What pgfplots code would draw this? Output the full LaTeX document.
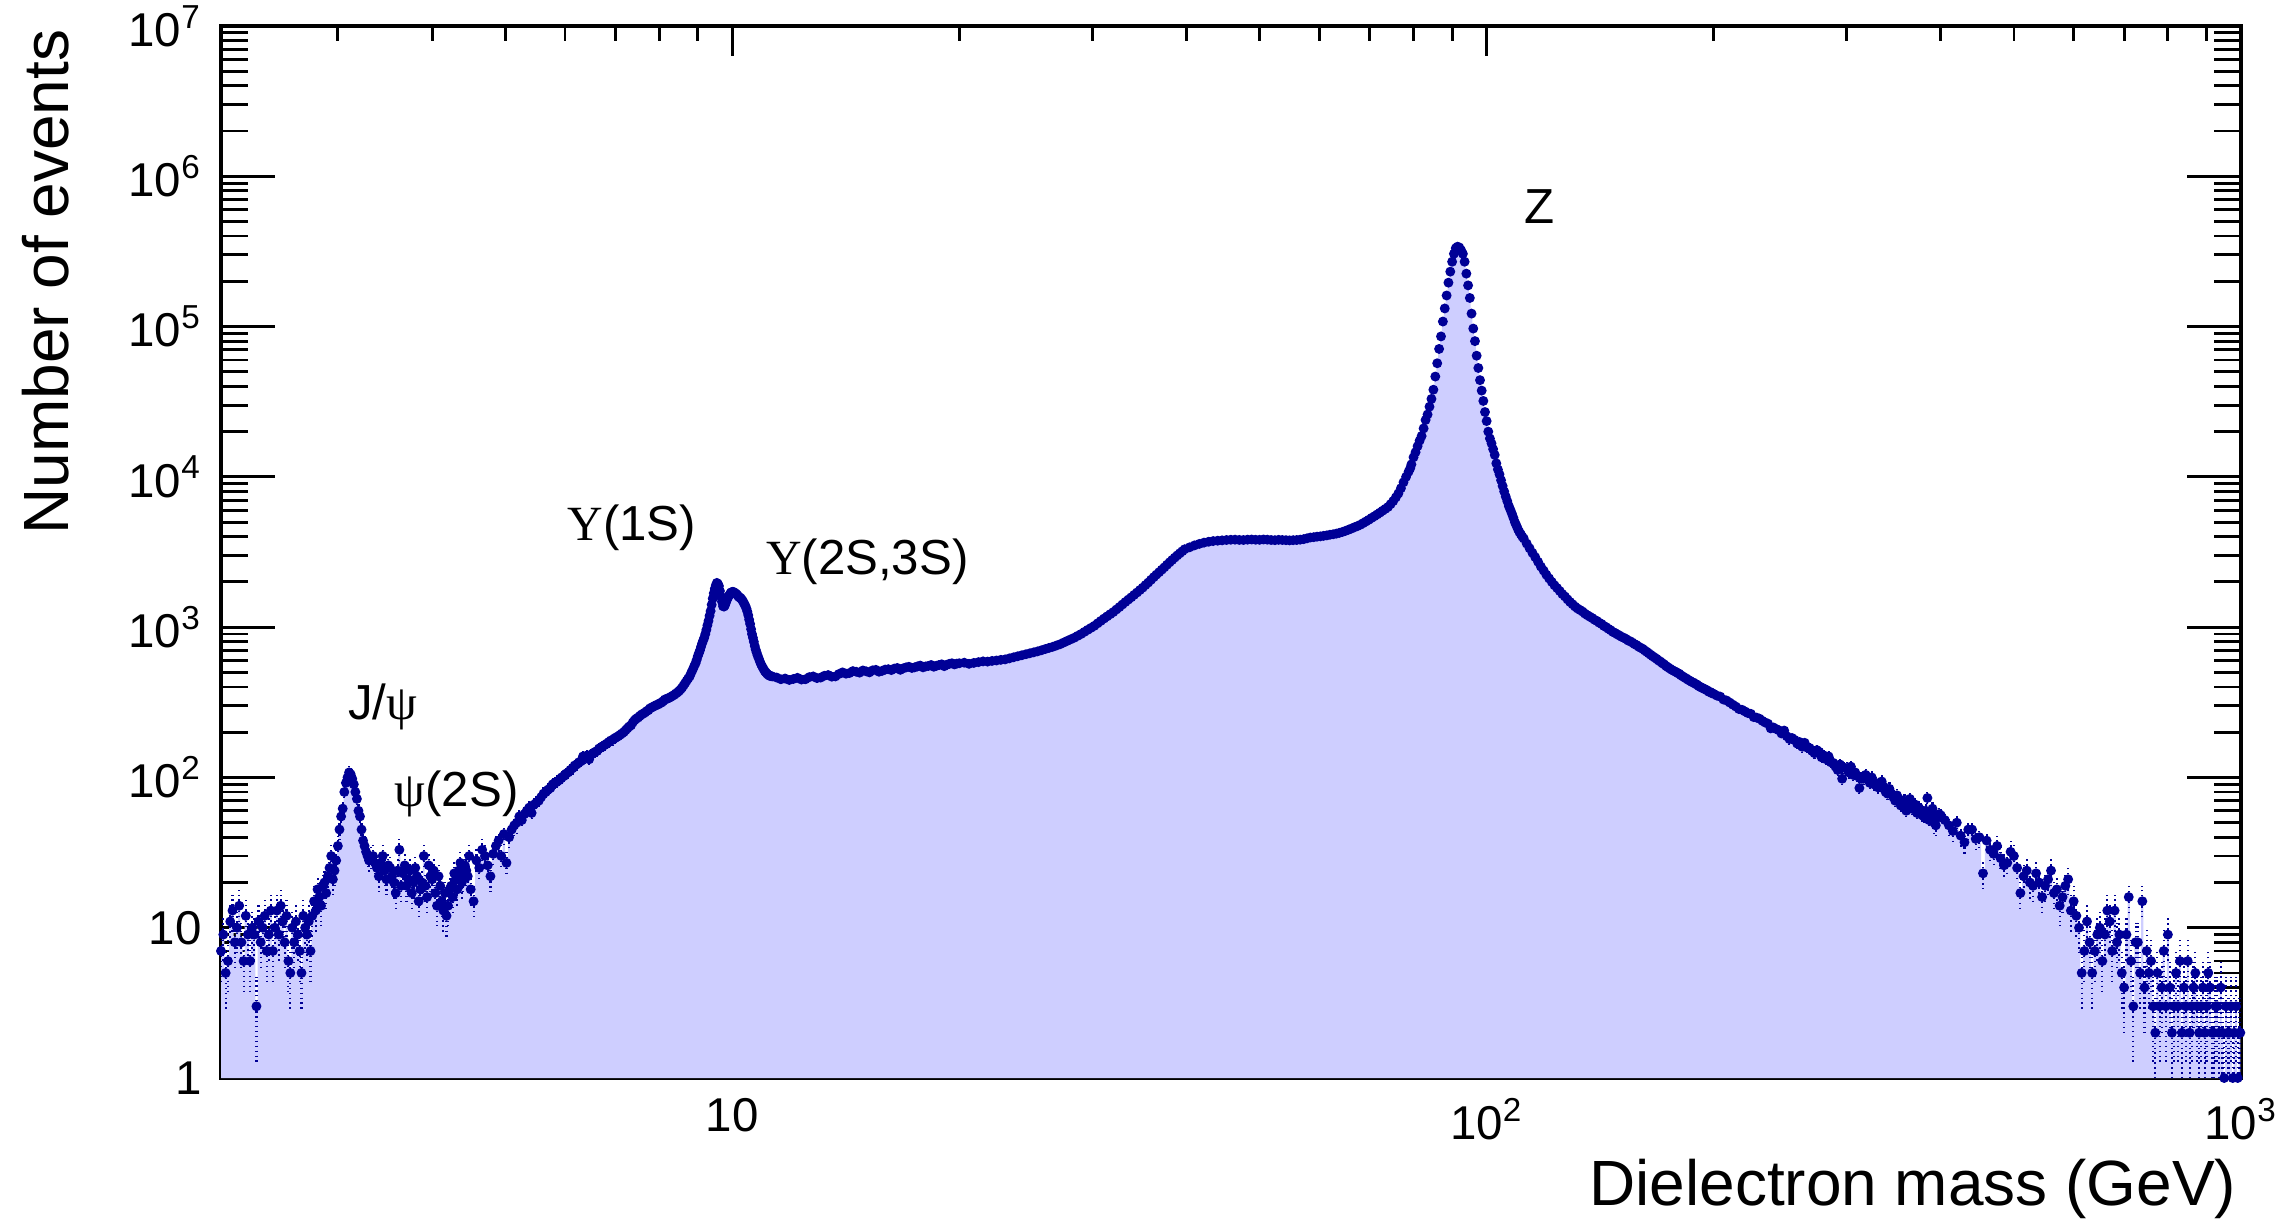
\documentclass[border=0pt]{standalone}
\usepackage{pgfplots}
\usepackage{pgfplotstable}
\pgfplotsset{compat=1.18}
\usepackage{fontspec}
\setmainfont{Liberation Sans}
\newfontfamily\serifgr{Liberation Serif}
\definecolor{markc}{RGB}{0,0,150}
\definecolor{fillc}{RGB}{206,206,255}

\pgfplotstableread{
x y
2.100 7
2.115 9
2.130 5
2.145 6
2.160 11
2.175 13
2.190 8
2.205 10
2.220 14
2.235 8
2.250 6
2.265 12
2.280 9
2.295 6
2.310 10
2.325 9
2.340 3
2.355 11
2.370 8
2.385 10
2.400 12
2.415 7
2.430 9
2.445 13
2.460 7
2.475 10
2.490 13
2.505 9
2.520 14
2.535 11
2.550 8
2.565 12
2.580 6
2.595 5
2.610 10
2.625 8
2.640 11
2.655 9
2.670 7
2.685 5
2.700 12
2.715 10
2.730 9
2.745 11
2.760 7
2.775 12
2.790 15
2.805 13
2.820 18
2.835 16
2.850 14
2.865 19
2.880 20
2.895 17
2.910 22
2.925 25
2.940 30
2.955 21
2.970 24
2.985 28
3.000 35
3.015 45
3.030 55
3.045 62
3.060 80
3.075 92
3.090 100
3.105 108
3.120 105
3.135 98
3.150 90
3.165 80
3.180 72
3.195 60
3.210 55
3.225 45
3.240 38
3.255 35
3.270 32
3.285 30
3.300 28
3.320 29
3.340 30
3.360 27
3.380 25
3.400 22
3.420 27
3.440 30
3.460 24
3.480 21
3.500 26
3.520 25
3.540 22
3.560 20
3.580 17
3.600 24
3.620 33
3.640 19
3.660 23
3.680 26
3.700 19
3.720 21
3.740 24
3.760 17
3.780 20
3.800 25
3.820 22
3.840 15
3.860 18
3.880 20
3.900 30
3.920 19
3.940 16
3.960 26
3.980 22
4.000 21
4.020 24
4.040 17
4.060 14
4.080 22
4.100 19
4.120 15
4.140 13
4.160 17
4.180 12
4.200 14
4.220 18
4.240 19
4.260 16
4.280 23
4.300 21
4.320 18
4.340 24
4.360 27
4.380 20
4.400 22
4.420 26
4.440 24
4.460 22
4.480 30
4.500 18
4.540 15
4.580 28
4.620 25
4.660 33
4.700 30
4.740 26
4.780 22
4.820 31
4.860 35
4.900 38
4.940 30
4.980 42
5.020 27
5.060 40
5.100 45
5.140 48
5.180 50
5.220 55
5.260 52
5.300 57
5.340 60
5.380 63
5.420 58
5.460 66
5.500 68
5.540 70
5.580 74
5.620 78
5.660 80
5.700 83
5.740 85
5.780 90
5.820 92
5.860 94
5.900 96
5.940 100
5.980 102
6.020 106
6.060 108
6.100 112
6.140 115
6.180 120
6.220 122
6.260 126
6.300 128
6.340 138
6.380 135
6.420 140
6.460 132
6.500 142
6.540 145
6.580 148
6.620 150
6.660 156
6.700 158
6.740 162
6.780 165
6.820 168
6.860 172
6.900 176
6.940 178
6.980 182
7.020 185
7.060 188
7.100 192
7.140 196
7.180 200
7.220 206
7.260 212
7.300 218
7.340 222
7.380 232
7.420 240
7.460 246
7.500 250
7.540 256
7.580 262
7.620 266
7.660 270
7.700 276
7.740 280
7.780 288
7.820 292
7.860 296
7.900 300
7.940 304
7.980 306
8.020 312
8.060 315
8.100 322
8.140 330
8.180 333
8.220 336
8.260 340
8.300 345
8.340 350
8.380 355
8.420 362
8.460 368
8.500 376
8.540 385
8.580 396
8.620 410
8.660 424
8.700 440
8.740 455
8.780 470
8.820 495
8.860 520
8.900 548
8.940 575
8.970 605
9.000 640
9.030 670
9.060 700
9.090 740
9.120 780
9.150 815
9.180 850
9.210 900
9.240 960
9.270 1030
9.300 1100
9.330 1190
9.360 1280
9.390 1410
9.420 1550
9.450 1680
9.480 1800
9.510 1900
9.540 1970
9.570 1940
9.600 1880
9.630 1740
9.660 1600
9.690 1480
9.720 1380
9.750 1370
9.780 1400
9.810 1460
9.840 1520
9.870 1580
9.900 1620
9.930 1660
9.960 1700
9.990 1710
10.02 1720
10.05 1705
10.08 1690
10.11 1670
10.14 1650
10.17 1620
10.20 1590
10.23 1575
10.26 1560
10.29 1530
10.32 1500
10.35 1460
10.38 1420
10.41 1380
10.44 1330
10.47 1270
10.50 1200
10.53 1120
10.56 1050
10.59 970
10.62 900
10.65 850
10.68 800
10.71 750
10.74 710
10.77 680
10.80 650
10.84 620
10.88 590
10.92 565
10.96 545
11.00 528
11.04 510
11.08 500
11.12 490
11.16 482
11.20 475
11.25 472
11.30 470
11.45 462
11.60 450
11.75 455
11.90 445
12.05 452
12.20 460
12.35 448
12.50 450
12.65 465
12.80 470
12.95 458
13.10 462
13.25 475
13.40 480
13.55 468
13.70 470
13.85 488
14.00 500
14.15 490
14.30 495
14.45 510
14.60 505
14.75 498
14.90 515
15.05 508
15.20 500
15.35 516
15.50 520
15.65 505
15.80 512
15.95 522
16.10 525
16.25 518
16.40 530
16.55 535
16.70 520
16.85 532
17.00 540
17.15 545
17.30 535
17.45 540
17.60 548
17.75 555
17.90 540
18.05 548
18.20 552
18.35 560
18.50 545
18.65 553
18.80 560
18.95 566
19.10 550
19.25 562
19.40 570
19.55 575
19.70 565
19.85 572
20.00 575
20.30 580
20.60 570
20.90 578
21.20 585
21.50 592
21.80 590
22.10 596
22.40 600
22.70 606
23.00 610
23.30 620
23.60 630
23.90 640
24.20 650
24.50 660
24.80 670
25.10 680
25.40 690
25.70 702
26.00 715
26.30 728
26.60 740
26.90 755
27.20 770
27.50 790
27.80 810
28.10 830
28.40 850
28.70 875
29.00 900
29.30 930
29.60 960
29.90 990
30.20 1020
30.50 1060
30.80 1100
31.10 1140
31.40 1180
31.70 1220
32.00 1260
32.30 1310
32.60 1360
32.90 1415
33.20 1470
33.50 1525
33.80 1580
34.10 1640
34.40 1700
34.70 1765
35.00 1830
35.30 1905
35.60 1980
35.90 2065
36.20 2150
36.50 2235
36.80 2320
37.10 2410
37.40 2500
37.70 2600
38.00 2700
38.30 2800
38.60 2900
38.90 3000
39.20 3100
39.50 3200
39.80 3300
40.40 3400
41.00 3500
41.60 3580
42.20 3650
42.80 3700
43.40 3740
44.00 3760
44.60 3780
45.20 3800
45.80 3815
46.40 3820
47.00 3805
47.60 3800
48.20 3820
48.80 3830
49.40 3815
50.00 3810
50.60 3830
51.20 3820
51.80 3800
52.40 3790
53.00 3810
53.60 3800
54.20 3790
54.80 3780
55.40 3790
56.00 3800
56.60 3820
57.20 3850
57.80 3900
58.40 3950
59.00 3970
59.60 4000
60.20 4020
60.80 4050
61.40 4080
62.00 4120
62.60 4150
63.20 4190
63.80 4240
64.40 4300
65.00 4370
65.60 4450
66.20 4530
66.80 4620
67.40 4700
68.00 4800
68.60 4920
69.20 5050
69.80 5180
70.40 5330
71.00 5470
71.60 5620
72.20 5780
72.80 5950
73.40 6120
74.00 6300
74.60 6580
75.20 6900
75.80 7300
76.40 7760
77.00 8400
77.60 9200
78.20 10000
78.80 10800
79.20 11400
79.50 12100
80.00 13500
80.50 14600
81.00 16000
81.50 17400
82.00 18700
82.50 21000
83.00 23900
83.50 26000
84.00 29300
84.50 33000
85.00 38000
85.50 46500
86.00 57000
86.50 71000
87.00 86000
87.50 108000
88.00 132000
88.50 161000
89.00 196000
89.50 232000
90.00 270000
90.50 305000
91.00 332000
91.50 340000
92.00 336000
92.50 322000
93.00 305000
93.50 270000
94.00 225000
94.50 188000
95.00 155000
95.50 122000
96.00 97000
96.50 80000
97.00 64000
97.50 53000
98.00 44000
98.50 37500
99.00 32000
99.50 27000
100.00 23500
100.50 20000
101.00 18000
101.50 16700
102.00 15300
102.50 14000
103.00 12300
103.50 11200
104.00 10400
104.50 9500
105.00 8700
105.50 8000
106.00 7400
106.50 6900
107.00 6400
107.50 6050
108.00 5700
108.50 5350
109.00 5000
109.50 4750
110.00 4500
110.50 4300
111.00 4150
111.50 4000
112.00 3890
113.00 3600
114.00 3350
115.00 3120
116.00 2920
117.00 2720
118.00 2530
119.00 2380
120.00 2230
121.00 2110
122.00 2000
123.00 1900
124.00 1820
125.00 1740
126.00 1660
127.00 1600
128.00 1530
129.00 1470
130.00 1420
131.00 1370
132.00 1330
133.00 1300
134.00 1270
135.00 1230
136.00 1200
137.00 1175
138.00 1150
139.00 1120
140.00 1100
141.00 1070
142.00 1050
143.00 1020
144.00 1000
145.00 975
146.00 955
147.00 930
148.00 915
149.00 895
150.00 880
151.00 862
152.00 850
153.00 835
154.00 815
155.00 805
156.00 790
157.00 772
158.00 760
159.00 742
160.00 730
161.00 718
162.00 700
163.00 686
164.00 670
165.00 655
166.00 640
167.00 628
168.00 615
169.00 600
170.00 590
171.00 575
172.00 565
173.00 550
174.00 540
175.00 530
176.00 520
177.00 512
178.00 505
179.00 496
180.00 490
181.00 478
182.00 470
183.00 462
184.00 455
185.00 446
186.00 440
187.00 432
188.00 428
189.00 420
190.00 415
191.00 406
192.00 400
193.00 395
194.00 390
195.00 385
196.00 380
197.00 372
198.00 370
199.00 363
200.00 360
202.00 350
204.00 345
206.00 330
208.00 325
210.00 315
212.00 305
214.00 296
216.00 285
218.00 282
220.00 275
222.00 268
224.00 265
226.00 252
228.00 250
230.00 246
232.00 238
234.00 232
236.00 228
238.00 212
240.00 215
242.00 210
244.00 206
246.00 196
248.00 205
250.00 188
252.00 180
254.00 183
256.00 178
258.00 168
260.00 172
262.00 160
264.00 170
266.00 158
268.00 157
270.00 150
272.00 145
274.00 152
276.00 148
278.00 136
280.00 140
282.00 132
284.00 138
286.00 126
288.00 125
290.00 118
292.00 112
294.00 122
296.00 98
298.00 116
300.00 115
302.00 108
304.00 118
306.00 104
308.00 108
310.00 102
312.00 85
314.00 98
316.00 98
318.00 104
320.00 101
322.00 92
324.00 100
326.00 90
328.00 92
330.00 86
332.00 88
334.00 94
336.00 87
338.00 80
340.00 78
342.00 84
344.00 78
346.00 74
348.00 70
350.00 76
352.00 72
354.00 65
356.00 66
358.00 70
360.00 60
362.00 67
364.00 72
366.00 62
368.00 64
370.00 66
372.00 58
374.00 63
376.00 61
378.00 56
380.00 55
382.00 60
384.00 73
386.00 52
388.00 58
390.00 62
392.00 50
394.00 48
396.00 54
398.00 57
400.00 56
405.00 52
410.00 48
415.00 44
420.00 50
425.00 41
430.00 37
435.00 45
440.00 45
445.00 39
450.00 40
455.00 23
460.00 38
465.00 33
470.00 31
475.00 35
480.00 29
485.00 26
490.00 27
495.00 32
500.00 30
505.00 25
510.00 17
515.00 22
520.00 24
525.00 20
530.00 19
535.00 23
540.00 20
545.00 16
550.00 19
555.00 21
560.00 24
565.00 17
570.00 18
575.00 14
580.00 16
585.00 19
590.00 21
595.00 13
600.00 15
605.00 12
610.00 10
615.00 5
620.00 7
625.00 11
630.00 8
635.00 5
640.00 7
645.00 9
650.00 10
655.00 6
660.00 9
665.00 13
670.00 11
675.00 7
680.00 13
685.00 8
690.00 9
695.00 5
700.00 4
705.00 9
710.00 16
715.00 6
720.00 3
725.00 8
730.00 8
735.00 5
740.00 15
745.00 4
750.00 7
755.00 5
760.00 6
765.00 3
770.00 2
775.00 5
780.00 3
785.00 4
790.00 7
795.00 3
800.00 9
805.00 4
810.00 2
815.00 3
820.00 5
825.00 3
830.00 6
835.00 2
840.00 4
845.00 3
850.00 6
855.00 2
860.00 3
865.00 4
870.00 5
875.00 3
880.00 2
885.00 3
890.00 4
895.00 2
900.00 3
905.00 5
910.00 4
915.00 2
920.00 2
925.00 3
930.00 3
935.00 2
940.00 4
945.00 2
950.00 1
955.00 3
960.00 2
965.00 2
970.00 3
975.00 1
980.00 2
985.00 3
990.00 1
995.00 2
998.00 2
}\datatable

\begin{document}
\begin{tikzpicture}
\useasboundingbox (-2.21,-1.42) rectangle (20.64,10.78);
\begin{axis}[
  at={(0,0)}, anchor=south west,
  scale only axis, width=20.2cm, height=10.52cm,
  xmode=log, ymode=log,
  xmin=2.1, xmax=1000, ymin=1, ymax=1e7,
  axis line style={line width=0.9pt},
  tick align=inside, xtick pos=both, ytick pos=both,
  tick style={line width=0.8pt, black},
  major tick length=0.54cm, minor tick length=0.27cm,
  x tick style={/pgfplots/major tick length=0.3cm, /pgfplots/minor tick length=0.15cm},
  xtick={10,100,1000},
  xticklabels={10, 10\textsuperscript{2}, 10\textsuperscript{3}},
  minor xtick={3,4,5,6,7,8,9,20,30,40,50,60,70,80,90,200,300,400,500,600,700,800,900},
  ytick={1,10,100,1000,10000,100000,1000000,10000000},
  yticklabels={1,10,10\textsuperscript{2},10\textsuperscript{3},10\textsuperscript{4},10\textsuperscript{5},10\textsuperscript{6},10\textsuperscript{7}},
  ticklabel style={font=\fontsize{13.5}{15}\selectfont},
  xticklabel style={yshift=-0.08cm},
  yticklabel style={xshift=-0.07cm},
  clip=true,
]
\addplot[draw=none, fill=fillc, const plot mark mid] table[x=x,y=y]{\datatable} \closedcycle;
\addplot[only marks, mark=*, mark size=1.2pt, color=markc,
  error bars/.cd, y dir=both, y explicit,
  error bar style={densely dotted, line width=0.6pt, color=markc},
  error mark=none]
  table[x=x, y=y,
    y error plus expr={sqrt(\thisrow{y})},
    y error minus expr={min(sqrt(\thisrow{y}),0.999*\thisrow{y})}]{\datatable};
\node[font=\fontsize{14}{16}\selectfont] at (axis cs:117.5,6.24e5) {Z};
\node[font=\fontsize{14}{16}\selectfont] at (axis cs:3.44,294) {J/{\serifgr ψ}};
\node[font=\fontsize{14}{16}\selectfont] at (axis cs:4.31,77.6) {{\serifgr ψ}(2S)};
\node[font=\fontsize{14}{16}\selectfont] at (axis cs:7.36,4570) {{\serifgr Υ}(1S)};
\node[font=\fontsize{14}{16}\selectfont] at (axis cs:15.1,2710) {{\serifgr Υ}(2S,3S)};
\end{axis}
\node[rotate=90, anchor=base east, font=\fontsize{18.2}{22}\selectfont, inner sep=0pt] at (-1.52,10.49) {Number of events};
\node[anchor=base east, font=\fontsize{18.2}{22}\selectfont, inner sep=0pt] at (20.16,-1.27) {Dielectron mass (GeV)};
\end{tikzpicture}
\end{document}
